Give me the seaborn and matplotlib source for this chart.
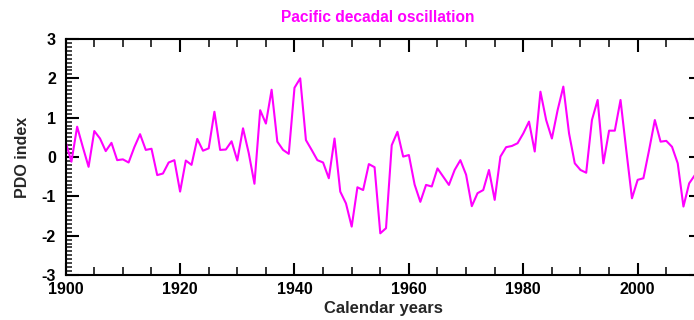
import matplotlib
matplotlib.use("Agg")
import matplotlib.pyplot as plt
from matplotlib.ticker import MultipleLocator
import numpy as np
import pandas as pd
import seaborn as sns

# Annual Pacific Decadal Oscillation index
years = list(range(1900, 2011))
pdo_index = [
    0.38, -0.12, 0.77, 0.25, -0.25, 0.66, 0.47, 0.15, 0.36, -0.08,   # 1900s
    -0.06, -0.14, 0.25, 0.58, 0.18, 0.21, -0.46, -0.42, -0.14, -0.08,  # 1910s
    -0.88, -0.09, -0.20, 0.46, 0.16, 0.22, 1.15, 0.18, 0.19, 0.40,    # 1920s
    -0.09, 0.73, 0.10, -0.68, 1.19, 0.85, 1.71, 0.39, 0.18, 0.08,     # 1930s
    1.76, 2.00, 0.43, 0.18, -0.08, -0.14, -0.54, 0.47, -0.88, -1.18,  # 1940s
    -1.77, -0.77, -0.84, -0.18, -0.26, -1.94, -1.81, 0.30, 0.64, 0.01,  # 1950s
    0.05, -0.70, -1.14, -0.71, -0.75, -0.29, -0.50, -0.71, -0.33, -0.08,  # 1960s
    -0.45, -1.25, -0.92, -0.84, -0.33, -1.09, 0.01, 0.25, 0.28, 0.35,  # 1970s
    0.60, 0.90, 0.14, 1.66, 0.94, 0.47, 1.19, 1.79, 0.60, -0.16,      # 1980s
    -0.33, -0.40, 0.94, 1.45, -0.16, 0.67, 0.67, 1.45, 0.18, -1.05,   # 1990s
    -0.58, -0.54, 0.18, 0.94, 0.39, 0.41, 0.26, -0.16, -1.26, -0.67,  # 2000s
    -0.46,
]

df = pd.DataFrame({"year": years, "pdo": pdo_index})

sns.set_style("ticks")
plt.rcParams["font.family"] = ["Liberation Sans", "DejaVu Sans"]
plt.rcParams["font.weight"] = "bold"
plt.rcParams["axes.unicode_minus"] = False

W, H = 694, 320
fig = plt.figure(figsize=(W / 100, H / 100), dpi=100)
left, right, top, bottom = 65.7, 700.6, 39.0, 275.0
ax = fig.add_axes([left / W, 1 - bottom / H, (right - left) / W, (bottom - top) / H])

sns.lineplot(data=df, x="year", y="pdo", ax=ax, color="#ff00ff",
             linewidth=1.5, estimator=None)

ax.set_xlim(1900, 2011)
ax.set_ylim(-3, 3)
ax.xaxis.set_major_locator(MultipleLocator(20))
ax.xaxis.set_minor_locator(MultipleLocator(5))
ax.yaxis.set_major_locator(MultipleLocator(1))
ax.yaxis.set_minor_locator(MultipleLocator(0.1))

for s in ax.spines.values():
    s.set_visible(True)
    s.set_linewidth(1.5)
    s.set_color("black")

ax.tick_params(axis="both", which="major", direction="in", length=9, width=1.5,
               top=True, right=True, labelsize=11.5, colors="black")
ax.tick_params(axis="x", which="major", pad=5)
ax.tick_params(axis="y", which="major", pad=7)
ax.tick_params(axis="x", which="minor", direction="in", length=6, width=1.3,
               top=True, bottom=True)
ax.tick_params(axis="y", which="minor", direction="in", length=4.5, width=1.2,
               left=True, right=True)
for lab in ax.get_xticklabels() + ax.get_yticklabels():
    lab.set_fontweight("bold")

ax.set_xlabel("Calendar years", fontsize=12, fontweight="bold")
ax.set_ylabel("PDO index", fontsize=11.5, fontweight="bold")
ax.xaxis.label.set_va("center")
ax.yaxis.label.set_va("center")
ax.xaxis.set_label_coords((383 - left) / (right - left), (bottom - 308) / (bottom - top))
ax.yaxis.set_label_coords((22.5 - left) / (right - left), 0.5)

fig.text(378 / W, 1 - 18 / H, "Pacific decadal oscillation", color="#ff00ff",
         fontsize=11.2, fontweight="bold", ha="center", va="center")

fig.savefig("out.png", dpi=100, facecolor="white")
